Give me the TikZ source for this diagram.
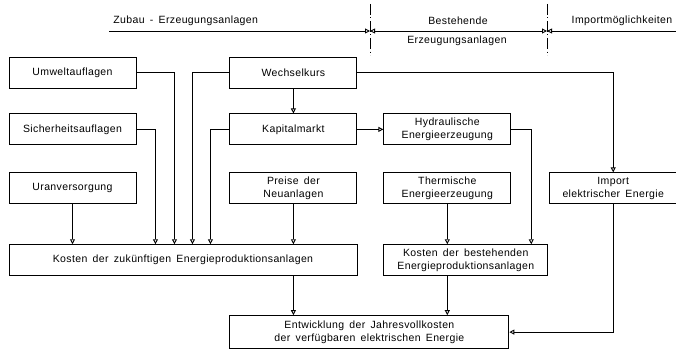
\documentclass[tikz,border=0pt]{standalone}
\usepackage{fontspec}
\setmainfont{Liberation Sans}[LetterSpace=3.5,WordSpace=1.6]
\usetikzlibrary{arrows.meta,calc,positioning}

\begin{document}
\begin{tikzpicture}[x=1pt,y=-1pt,>={Triangle[open,length=5pt,width=5pt]},line width=0.9pt,node distance=25pt and 93pt,
		box/.style={draw,minimum width=127pt,minimum height=31pt,align=center,inner sep=2pt,font=\fontsize{10.5}{13}\selectfont},
		head/.style={inner sep=1pt,font=\fontsize{10.5}{13}\selectfont}]
		\useasboundingbox (0,0) rectangle (676,353);
		% Kopfzeile
		\node[head,anchor=west] (zubau) at (112,21) {Zubau - Erzeugungsanlagen};
		\node[head] (best) at (458,21) {Bestehende};
		\node[head] (erz) at (457,41) {Erzeugungsanlagen};
		\node[head] (imp) at (622,21) {Importmöglichkeiten};
		\coordinate (g_0) at (109,31);
		\coordinate (g_1) at (370,31);
		\coordinate (g_2) at (547,31);
		\coordinate (g_3) at (676,31);
		\draw[line width=0.7pt,dash pattern=on 11pt off 2.5pt on 1pt off 2.5pt] ([yshift=27pt]g_1) -- ([yshift=-24pt]g_1);
		\draw[line width=0.7pt,dash pattern=on 11pt off 2.5pt on 1pt off 2.5pt] ([yshift=27pt]g_2) -- ([yshift=-24pt]g_2);
		\draw[->] (g_0) -- (g_1);
		\draw[<->] (g_1) -- (g_2);
		\draw[->] (g_3) -- (g_2);
		% Kaesten
		\node[box] (umwelt) at (72.5,72.5) {Umweltauflagen};
		\node[box] [below=of umwelt] (sicher) {Sicherheitsauflagen};
		\node[box] [below=27pt of sicher] (uran) {Uranversorgung};
		\node[box] [right=of umwelt] (wechsel) {Wechselkurs};
		\node[box] [below=of wechsel] (kapital) {Kapitalmarkt};
		\node[box] [below=27pt of kapital] (preise) {Preise der\\Neuanlagen};
		\node[box] [right=26pt of kapital] (hydro) {Hydraulische\\Energieerzeugung};
		\node[box] [below=27pt of hydro] (thermo) {Thermische\\Energieerzeugung};
		\node[box] [right=38pt of thermo] (import) {Import\\elektrischer Energie};
		\node[box,minimum width=348pt] [below=40pt of uran.south west,anchor=north west] (kneu) {Kosten der zukünftigen Energieproduktionsanlagen};
		\node[box,minimum width=164pt] [below=40pt of thermo.south west,anchor=north west] (kalt) {Kosten der bestehenden\\Energieproduktionsanlagen};
		\node[box,minimum width=279pt,minimum height=33pt,anchor=north west] (entw) at ($(kneu.south -| preise.west)+(0,39)$) {Entwicklung der Jahresvollkosten\\der verfügbaren elektrischen Energie};
		% Verbindungen
		\path[->]
			(uran.south) edge (uran.south |- kneu.north)
			(wechsel.south) edge (kapital.north)
			(kapital.east) edge (hydro.west)
			(preise.south) edge (preise.south |- kneu.north)
			(thermo.south) edge (thermo.south |- kalt.north)
			(kneu.south -| preise.south) edge (entw.north -| preise.south)
			(kalt.south -| thermo.south) edge (entw.north -| thermo.south);
		\draw[->] (sicher.east) -| ([xshift=19pt]sicher.east |- kneu.north);
		\draw[->] (umwelt.east) -| ([xshift=38pt]umwelt.east |- kneu.north);
		\draw[->] (wechsel.west) -| ([xshift=-37pt]wechsel.west |- kneu.north);
		\draw[->] (kapital.west) -| ([xshift=-19pt]kapital.west |- kneu.north);
		\draw[->] (hydro.east) -| ([xshift=20pt]hydro.east |- kalt.north);
		\draw[->] (wechsel.east) -| (import.north);
		\draw[->] (import.south) |- (entw.east);
	\end{tikzpicture}
\end{document}
